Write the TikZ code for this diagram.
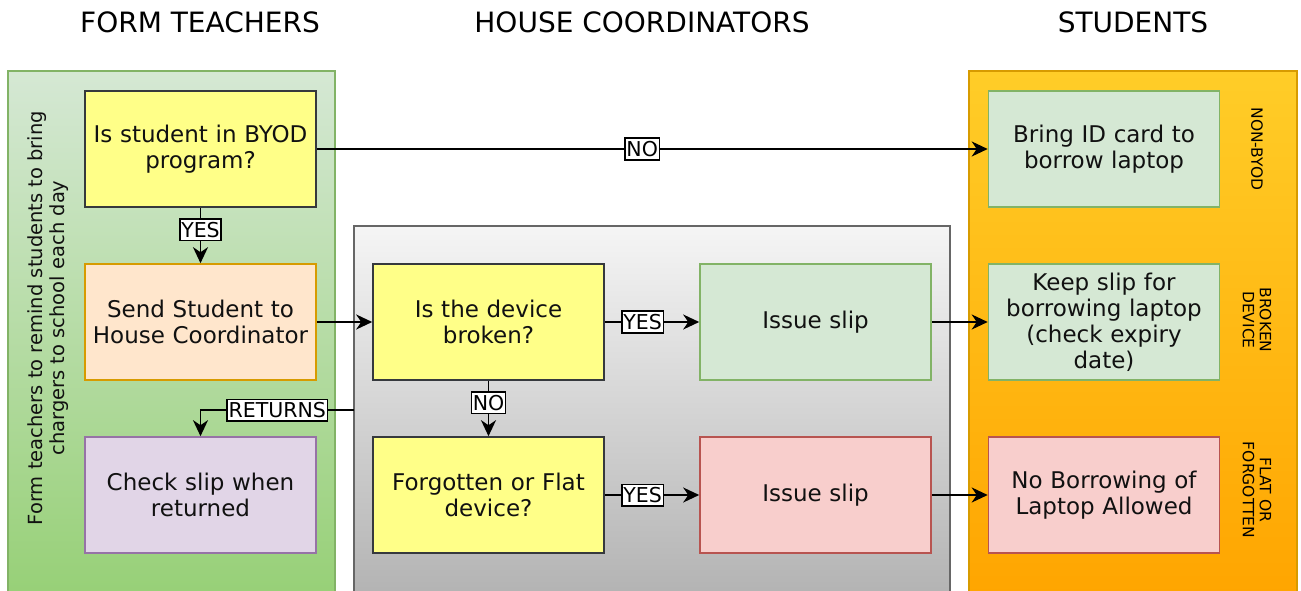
\documentclass[tikz,border=0pt]{standalone}
\usepackage{fontspec}
\setmainfont{DejaVu Sans}
\usetikzlibrary{arrows.meta}
\definecolor{ylwfill}{HTML}{FFFF88}
\definecolor{ylwline}{HTML}{36393D}
\definecolor{orgfill}{HTML}{FFE6CC}
\definecolor{orgline}{HTML}{D79B00}
\definecolor{purfill}{HTML}{E1D5E7}
\definecolor{purline}{HTML}{9673A6}
\definecolor{grnfill}{HTML}{D5E8D4}
\definecolor{grnline}{HTML}{82B366}
\definecolor{redfill}{HTML}{F8CECC}
\definecolor{redline}{HTML}{B85450}
\definecolor{grnlow}{HTML}{97D077}
\definecolor{gryhigh}{HTML}{F5F5F5}
\definecolor{grylow}{HTML}{B3B3B3}
\definecolor{gryline}{HTML}{666666}
\definecolor{amhigh}{HTML}{FFCD28}
\definecolor{amlow}{HTML}{FFA500}
\definecolor{txt}{HTML}{111111}
\tikzset{
  box/.style={draw, line width=1.6pt, minimum width=231pt, minimum height=116pt,
    text width=229pt, align=center, inner sep=0pt, text=txt,
    font=\fontsize{23}{26}\selectfont},
  question/.style={box, fill=ylwfill, draw=ylwline},
  sendbox/.style={box, fill=orgfill, draw=orgline},
  checkbox/.style={box, fill=purfill, draw=purline},
  okbox/.style={box, fill=grnfill, draw=grnline},
  badbox/.style={box, fill=redfill, draw=redline},
  lanetitle/.style={font=\fontsize{28}{30}\selectfont, text=black},
  sidelabel/.style={font=\fontsize{15.5}{17}\selectfont, align=center, rotate=-90, text=black},
  tag/.style={draw=black, fill=white, line width=1.5pt, inner xsep=1.5pt, inner ysep=3pt,
    font=\fontsize{20.5}{22}\selectfont, text=black},
  flow/.style={line width=1.8pt, -{Stealth[length=16pt, width=15pt, inset=5pt]}}
}
\begin{document}
\begin{tikzpicture}[x=1pt, y=-1pt]
\useasboundingbox (0,0) rectangle (1301,591);

% swim lanes
\shade[top color=grnfill, bottom color=grnlow] (8,71) rectangle (335,595);
\draw[grnline, line width=1.6pt] (8,595) -- (8,71) -- (335,71) -- (335,595);
\shade[top color=gryhigh, bottom color=grylow] (354,226) rectangle (950,595);
\draw[gryline, line width=1.6pt] (354,595) -- (354,226) -- (950,226) -- (950,595);
\shade[top color=amhigh, bottom color=amlow] (969,71) rectangle (1297,595);
\draw[orgline, line width=1.6pt] (969,595) -- (969,71) -- (1297,71) -- (1297,595);

% lane titles
\node[lanetitle] (tteach) at (200,22) {FORM TEACHERS};
\node[lanetitle] (thouse) at (642,22) {HOUSE COORDINATORS};
\node[lanetitle] (tstud) at (1133,22) {STUDENTS};

% reminder along the teachers' lane
\node[rotate=90, align=center, font=\fontsize{19.5}{22}\selectfont, text=txt] (remind) at (48,318)
  {Form teachers to remind students to bring\\chargers to school each day};

% process boxes
\node[question] (byod) at (200.5,149) {Is student in BYOD\\program?};
\node[sendbox] (send) at (200.5,322) {Send Student to\\House Coordinator};
\node[checkbox] (check) at (200.5,495) {Check slip when\\returned};
\node[question] (broken) at (488.5,322) {Is the device\\broken?};
\node[question] (flat) at (488.5,495) {Forgotten or Flat\\device?};
\node[okbox] (slipa) at (815.5,322) {Issue slip};
\node[badbox] (slipb) at (815.5,495) {Issue slip};
\node[okbox] (idcard) at (1104,149) {Bring ID card to\\borrow laptop};
\node[okbox] (keep) at (1104,322) {Keep slip for\\borrowing laptop\\(check expiry\\date)};
\node[badbox] (noborrow) at (1104,495) {No Borrowing of\\Laptop Allowed};

% outcome captions
\node[sidelabel] (snon) at (1257,149) {NON-BYOD};
\node[sidelabel] (sbrk) at (1257,320) {BROKEN\\DEVICE};
\node[sidelabel] (sflat) at (1257,490) {FLAT OR\\FORGOTTEN};

% connectors
\draw[flow] (byod.east) -- node[tag, pos=0.485] {NO} (idcard.west);
\draw[flow] (byod.south) -- node[tag, pos=0.4] {YES} (send.north);
\draw[flow] (send.east) -- (broken.west);
\draw[flow] (broken.east) -- node[tag, pos=0.4] {YES} (slipa.west);
\draw[flow] (broken.south) -- node[tag, pos=0.4] {NO} (flat.north);
\draw[flow] (flat.east) -- node[tag, pos=0.4] {YES} (slipb.west);
\draw[flow] (slipa.east) -- (keep.west);
\draw[flow] (slipb.east) -- (noborrow.west);
\coordinate (ret) at (354,410);
\draw[flow] (ret) -- node[tag, pos=0.5] {RETURNS} (200.5,410) -- (check.north);
\end{tikzpicture}
\end{document}
